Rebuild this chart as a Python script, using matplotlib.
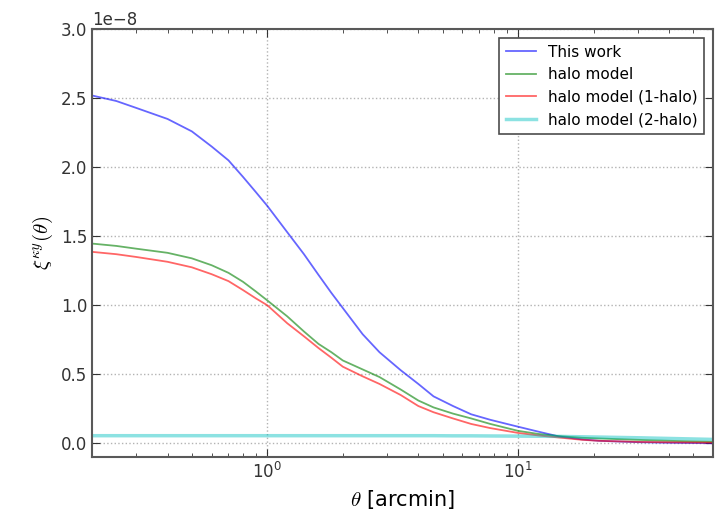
import numpy as np
import matplotlib
matplotlib.use("Agg")
import matplotlib.pyplot as plt

# angular separation [arcmin]
theta = [0.2, 0.25, 0.3, 0.4, 0.5, 0.6, 0.7, 0.8, 0.9, 1.0, 1.2, 1.4, 1.6, 1.8, 2.0,
         2.4, 2.8, 3.4, 4.0, 4.6, 5.5, 6.5, 7.75, 10, 12, 14.5, 18, 21, 30, 40, 60]

# correlation functions (units of 1e-8)
this_work = [2.52, 2.48, 2.43, 2.35, 2.26, 2.15, 2.05, 1.93, 1.82, 1.72, 1.53, 1.37, 1.22, 1.09, 0.98,
             0.79, 0.66, 0.53, 0.43, 0.34, 0.27, 0.21, 0.17, 0.12, 0.085, 0.05, 0.028, 0.018, 0.008, 0.004, 0.0]
halo_tot = [1.447, 1.43, 1.41, 1.38, 1.34, 1.29, 1.235, 1.17, 1.10, 1.035, 0.92, 0.81, 0.72, 0.66, 0.60,
            0.535, 0.48, 0.39, 0.31, 0.26, 0.215, 0.18, 0.14, 0.09, 0.068, 0.052, 0.04, 0.035, 0.025, 0.018, 0.01]
halo_1h = [1.387, 1.37, 1.35, 1.315, 1.275, 1.225, 1.175, 1.11, 1.05, 1.0, 0.87, 0.775, 0.69, 0.62, 0.555,
           0.485, 0.43, 0.35, 0.27, 0.225, 0.18, 0.14, 0.11, 0.075, 0.057, 0.042, 0.025, 0.018, 0.01, 0.007, 0.004]
halo_2h = [0.055, 0.055, 0.055, 0.055, 0.055, 0.055, 0.055, 0.055, 0.055, 0.055, 0.055, 0.055, 0.055, 0.055, 0.055,
           0.055, 0.055, 0.055, 0.055, 0.055, 0.054, 0.054, 0.053, 0.052, 0.051, 0.05, 0.047, 0.045, 0.04, 0.035, 0.028]

plt.rcParams['xtick.direction'] = 'in'
plt.rcParams['ytick.direction'] = 'in'
plt.rcParams['xtick.top'] = True
plt.rcParams['ytick.right'] = True
plt.rcParams['xtick.major.size'] = 6
plt.rcParams['ytick.major.size'] = 6
plt.rcParams['xtick.minor.size'] = 3
plt.rcParams['font.size'] = 12
plt.rcParams['mathtext.fontset'] = 'cm'

fig = plt.figure(figsize=(7.19, 5.13), dpi=100)
ax = fig.add_axes([0.128, 0.109, 0.864, 0.834])

s = 1e-8
ax.plot(theta, np.array(this_work)*s, color='b', alpha=0.6, lw=1.3, label='This work')
ax.plot(theta, np.array(halo_tot)*s, color='g', alpha=0.6, lw=1.3, label='halo model')
ax.plot(theta, np.array(halo_1h)*s, color='r', alpha=0.6, lw=1.3, label='halo model (1-halo)')
ax.plot(theta, np.array(halo_2h)*s, color='c', alpha=0.45, lw=2.5, label='halo model (2-halo)')

ax.set_xscale('log')
ax.set_xlim(0.2, 60)
ax.set_ylim(-0.1e-8, 3.0e-8)
ax.set_yticks(np.arange(0, 3.01, 0.5)*s)
ax.grid(True, linestyle=':', color='0.7', lw=1)
for sp in ax.spines.values():
    sp.set_color('0.35')
    sp.set_linewidth(1.5)
ax.tick_params(colors='0.2', which='both')

ax.set_xlabel(r'$\theta$ [arcmin]', fontsize=15)
ax.set_ylabel(r'$\xi^{\kappa y}(\theta)$', fontsize=15)

leg = ax.legend(loc='upper right', fontsize=11, fancybox=False, framealpha=1, borderaxespad=0.6)
leg.get_frame().set_edgecolor('0.3')
leg.get_frame().set_linewidth(1.2)

plt.savefig("out.png", dpi=100)
